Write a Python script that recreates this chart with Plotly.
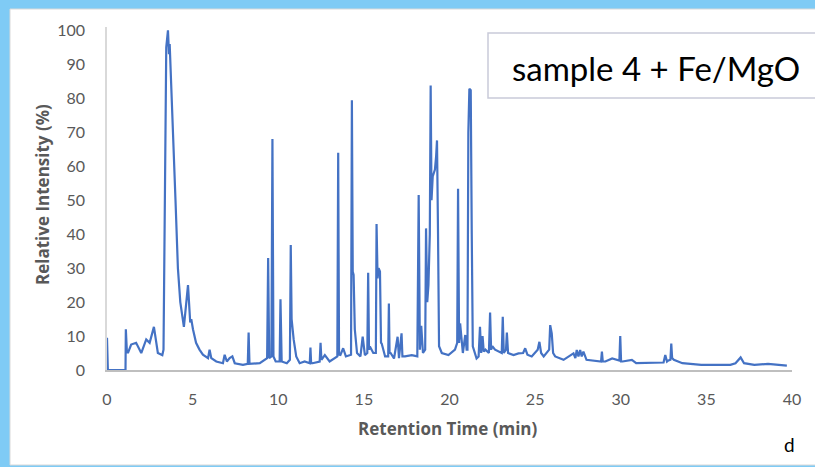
import plotly.graph_objects as go

# ---- data (retention time in min, relative intensity in %) ----
rt_early = [0.0, 0.05, 1.08, 1.1, 1.16, 1.22, 1.41, 1.7, 2.0, 2.29,
            2.49, 2.74, 2.97, 3.23, 3.3, 3.36, 3.46, 3.56, 3.62, 3.66,
            3.75, 3.85, 4.0, 4.14, 4.28, 4.49, 4.73, 4.86, 4.92, 5.02,
            5.2, 5.4, 5.6, 5.9, 5.99, 6.09, 6.38, 6.77, 6.87, 7.0,
            7.16, 7.32, 7.46, 7.94]
int_early = [9.5, 0, 0, 12, 5.5, 5, 7.5, 8, 5, 9,
             8, 12.7, 5, 4.4, 6, 40, 95, 100, 93, 96,
             85, 70, 50, 30, 20, 12.7, 25, 14, 15, 12,
             8, 6, 4.5, 3.5, 6, 3.5, 2.5, 2, 4.5, 2.5,
             3.5, 4, 2, 1.5]

rt_mid1 = [8.22, 8.27, 8.32, 8.92, 9.21, 9.35, 9.41, 9.47, 9.6, 9.66,
           9.72, 9.85, 10.08, 10.13, 10.2, 10.5, 10.68, 10.73, 10.78, 10.83,
           10.9, 10.96, 11.05, 11.25, 11.54, 11.84, 11.88, 11.92, 12.0, 12.42,
           12.47, 12.52, 12.58, 12.72, 13.0, 13.29]
int_mid1 = [1.8, 11, 1.8, 2, 3, 3.5, 33, 3.5, 4, 68,
            4, 2.5, 2.5, 20.8, 2.5, 2, 3, 36.8, 15, 12,
            9, 7, 4, 2, 2.5, 2, 6.6, 2, 2, 2.5,
            8, 3, 3.4, 4.4, 2.5, 3.4]

rt_mid2 = [13.45, 13.5, 13.55, 13.63, 13.79, 13.95, 14.25, 14.3, 14.35, 14.4,
           14.47, 14.6, 14.8, 14.93, 15.06, 15.2, 15.25, 15.3, 15.35, 15.55,
           15.7, 15.74, 15.8, 15.86, 15.94, 16.0, 16.04, 16.24, 16.42, 16.46,
           16.5, 16.56, 16.76, 16.97, 17.05, 17.2, 17.25, 17.4, 17.8]
int_mid2 = [4, 64, 4.5, 4.4, 6.4, 4, 4.5, 79.4, 29, 28,
            12, 5, 4, 9.8, 4.4, 5, 28.6, 6, 6.9, 5,
            5, 43, 27, 30, 29, 8, 7.8, 4, 4, 19.6,
            5, 5, 3.4, 9.8, 3.5, 10.8, 4, 4, 4.4]

rt_mid3 = [18.12, 18.2, 18.27, 18.35, 18.45, 18.58, 18.63, 18.7, 18.77, 18.85,
           18.9, 18.95, 19.02, 19.15, 19.22, 19.27, 19.33, 19.39, 19.55, 19.94,
           20.32, 20.45, 20.5, 20.56, 20.62, 20.68, 20.78, 20.92, 21.0, 21.05,
           21.1, 21.16, 21.24, 21.3, 21.36, 21.58]
int_mid3 = [4, 51.5, 6, 13, 5, 6, 41.7, 20, 25, 40,
            83.8, 50, 57, 59, 63, 67.6, 40, 7, 5, 4.4,
            6, 8, 53.4, 8, 13.7, 10, 5, 10.3, 6, 6,
            70, 82.8, 82.4, 40, 7, 3.4]

rt_late = [21.7, 21.78, 21.85, 21.93, 22.0, 22.1, 22.3, 22.37, 22.43, 22.5,
           22.66, 23.05, 23.11, 23.17, 23.3, 23.35, 23.42, 23.74, 24.03, 24.3,
           24.42, 24.55, 24.8, 25.15, 25.25, 25.35, 25.5, 25.82, 25.88, 25.97,
           26.05, 26.17, 26.66, 27.24, 27.35, 27.43, 27.53, 27.63, 27.72, 27.82,
           28.0, 28.85, 28.9, 28.95, 29.1, 29.5, 29.92, 29.97, 30.02, 30.1,
           30.65, 30.9, 31.9, 32.5, 32.6, 32.7, 32.75, 32.9, 32.95, 33.0,
           33.1, 33.6, 34.7, 36.4, 36.7, 37.0, 37.2, 37.8, 38.6, 39.7]
int_late = [4, 12.7, 5, 10, 5.4, 6, 5, 16.9, 6, 7,
            6, 5, 15.7, 5, 6, 11, 5, 4.4, 4.9, 5,
            6.4, 4.5, 4, 6, 8.3, 5, 4, 6, 13.2, 10.8,
            5, 4, 3, 4.9, 3.5, 5.9, 4, 5.9, 4, 5.4,
            3, 2.5, 5.4, 2.5, 2.5, 3.4, 2.8, 10, 2.5, 2.5,
            3, 2, 2, 2.2, 4.4, 2.5, 2.7, 3, 7.8, 3.5,
            3, 2, 1.5, 1.5, 2, 3.7, 2, 1.5, 1.8, 1.3]

x_ticks = [0, 5, 10, 15, 20, 25, 30, 35, 40]
y_ticks = [0, 10, 20, 30, 40, 50, 60, 70, 80, 90, 100]
legend_label = "sample 4 + Fe/MgO"
panel_label = "d"

rt = rt_early + rt_mid1 + rt_mid2 + rt_mid3 + rt_late
intensity = int_early + int_mid1 + int_mid2 + int_mid3 + int_late
assert len(rt) == len(intensity), (len(rt), len(intensity))

W, H = 815, 467
L, R, T, B = 107, 23, 27, 97
pw, ph = W - L - R, H - T - B


def px_x(p):
    return (p - L) / pw


def px_y(p):
    return (H - B - p) / ph


FONT = "Lato"
TITLE_FONT = "Open Sans"
GREY = "#595959"

fig = go.Figure()
fig.add_trace(go.Scatter(x=rt, y=intensity, mode="lines",
                         line=dict(color="#4472C4", width=2.2),
                         showlegend=False, hoverinfo="x+y"))


def label(text, x, y, size, color, family, angle=0):
    return dict(text=text, textangle=angle, xref="paper", yref="paper",
                x=px_x(x), y=px_y(y), xanchor="center", yanchor="middle",
                showarrow=False, font=dict(size=size, color=color, family=family))


fig.update_layout(
    width=W, height=H,
    margin=dict(l=L, r=R, t=T, b=B, pad=0),
    paper_bgcolor="#7FCBF5",
    plot_bgcolor="rgba(0,0,0,0)",
    font=dict(family=FONT, color=GREY),
    xaxis=dict(range=[0, 40], tickvals=x_ticks, showgrid=False, zeroline=False,
               showline=True, linecolor="#BFBFBF", linewidth=1.5,
               ticks="", tickfont=dict(size=16, color=GREY, family=FONT),
               ticklabelstandoff=14),
    yaxis=dict(range=[0, 101], tickvals=y_ticks, showgrid=False, zeroline=False,
               showline=True, linecolor="#D9D9D9", linewidth=1.5,
               ticks="", tickfont=dict(size=16, color=GREY, family=FONT),
               ticklabelstandoff=17),
    shapes=[
        dict(type="rect", xref="paper", yref="paper", layer="below",
             x0=px_x(10), x1=px_x(816), y0=px_y(465), y1=px_y(9),
             fillcolor="white", line=dict(color="#D9D9D9", width=1)),
        dict(type="rect", xref="paper", yref="paper", layer="above",
             x0=px_x(488), x1=px_x(818), y0=px_y(98), y1=px_y(33),
             fillcolor="white", line=dict(color="#C9CAD9", width=1.5)),
    ],
    annotations=[
        label("<b>Relative Intensity (%)</b>", 42, 195, 17, GREY, TITLE_FONT, -90),
        label("<b>Retention Time (min)</b>", 448, 428, 17, GREY, TITLE_FONT),
        label(legend_label, 656, 68, 33, "black", FONT),
        label(panel_label, 789, 444, 19, "black", FONT),
    ],
)

fig.write_html("out.html",
               config={"displayModeBar": False},
               post_script="document.body.style.margin='0';"
                           "document.body.style.overflow='hidden';")
